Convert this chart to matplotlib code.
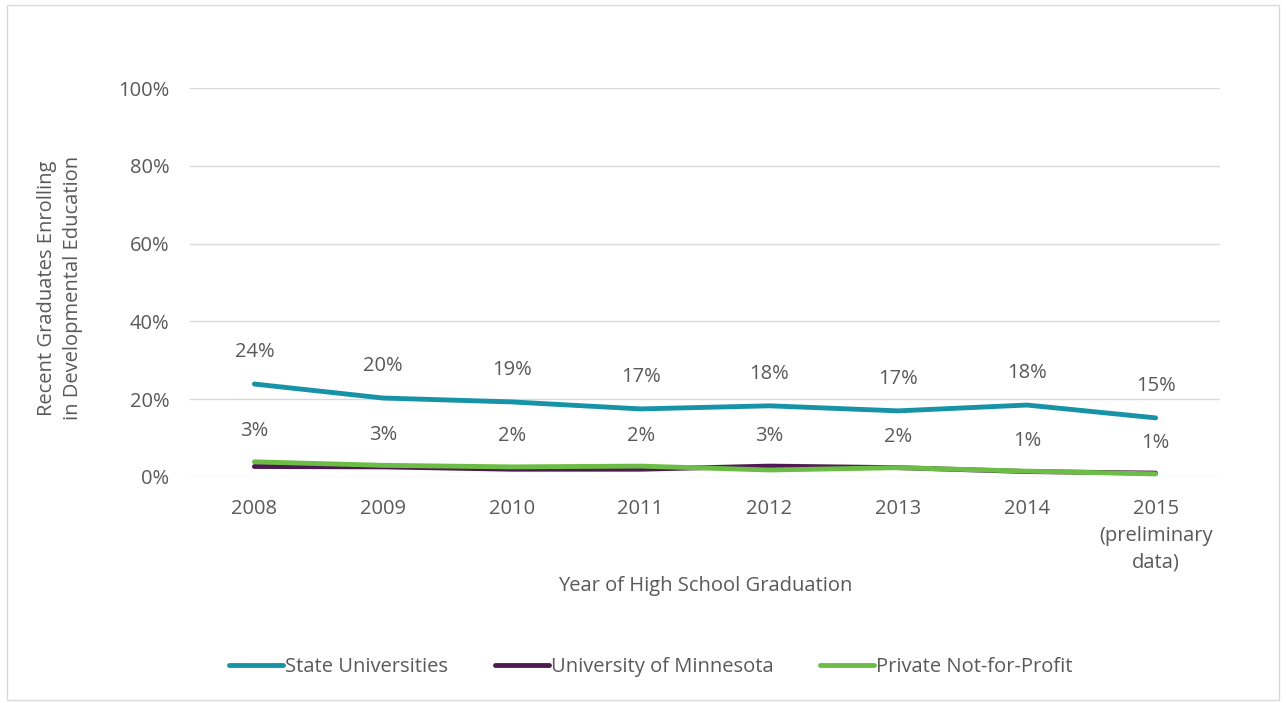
import matplotlib.pyplot as plt
from matplotlib.patches import Rectangle

years = ["2008", "2009", "2010", "2011", "2012", "2013", "2014", "2015\n(preliminary\ndata)"]
state_univ = [0.239, 0.203, 0.193, 0.175, 0.183, 0.170, 0.185, 0.152]
univ_mn = [0.027, 0.026, 0.020, 0.020, 0.028, 0.024, 0.014, 0.010]
private_nfp = [0.039, 0.030, 0.026, 0.028, 0.018, 0.024, 0.015, 0.008]
state_labels = ["24%", "20%", "19%", "17%", "18%", "17%", "18%", "15%"]
lower_labels = ["3%", "3%", "2%", "2%", "3%", "2%", "1%", "1%"]

plt.rcParams['font.family'] = ['Open Sans', 'DejaVu Sans']
txt = '#595959'
fs = 14.5

fig = plt.figure(figsize=(12.86, 7.03), dpi=100)
ax = fig.add_axes([190 / 1286, 1 - 477 / 703, 1030 / 1286, 389 / 703])
fig.patches.append(Rectangle((7 / 1286, 3 / 703), 1272 / 1286, 695 / 703,
                             transform=fig.transFigure, fill=False,
                             edgecolor='#d9d9d9', lw=1))

x = list(range(len(years)))
ax.plot(x, state_univ, color='#1793a8', lw=3.5, label='State Universities', solid_capstyle='round')
ax.plot(x, univ_mn, color='#4f1a52', lw=3.5, label='University of Minnesota', solid_capstyle='round')
ax.plot(x, private_nfp, color='#6cbd45', lw=3.5, label='Private Not-for-Profit', solid_capstyle='round')

for i in x:
    ax.annotate(state_labels[i], (i, state_univ[i]), xytext=(0, 23), textcoords='offset points',
                ha='center', va='center', fontsize=fs, color=txt)
    ax.annotate(lower_labels[i], (i, max(univ_mn[i], private_nfp[i])), xytext=(0, 22),
                textcoords='offset points', ha='center', va='center', fontsize=fs, color=txt)

ax.set_xlim(-0.5, len(years) - 0.5)
ax.set_ylim(0, 1)
ax.set_yticks([0, 0.2, 0.4, 0.6, 0.8, 1.0])
ax.set_yticklabels(["0%", "20%", "40%", "60%", "80%", "100%"])
ax.set_xticks(x)
ax.set_xticklabels(years, va='top', linespacing=1.45)
ax.tick_params(axis='both', length=0, labelsize=fs, labelcolor=txt)
ax.tick_params(axis='y', pad=15)
ax.tick_params(axis='x', pad=16)
ax.grid(axis='y', color='#d9d9d9', lw=1)
ax.set_axisbelow(True)
for s in ax.spines.values():
    s.set_visible(False)

ax.set_xlabel("Year of High School Graduation", fontsize=fs, color=txt, labelpad=2)
fig.text(60 / 1286, 1 - 288 / 703, "Recent Graduates Enrolling\nin Developmental Education",
         rotation=90, ha='center', va='center', fontsize=fs, color=txt, linespacing=1.35)

fig.legend(loc='center', bbox_to_anchor=(651 / 1286, 1 - 667 / 703), ncol=3, frameon=False,
           fontsize=fs, labelcolor=txt, handlelength=2.7, handletextpad=0.1, columnspacing=2.3)

fig.savefig('out.png', dpi=100)
